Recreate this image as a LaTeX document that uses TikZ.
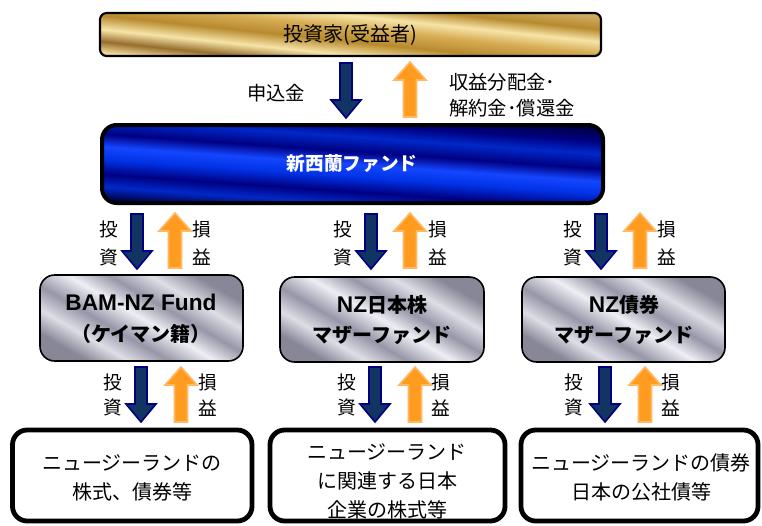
\documentclass[tikz,border=0pt]{standalone}
\usepackage{fontspec}
\setmainfont{Noto Sans CJK JP}
\newfontfamily\latinf{Liberation Sans}
\definecolor{navyfill}{RGB}{18,52,98}
\definecolor{navyedge}{RGB}{0,0,128}
\definecolor{orfill}{RGB}{255,155,30}
\definecolor{oredge}{RGB}{255,185,100}
\definecolor{gold1}{RGB}{238,214,150}
\definecolor{gold2}{RGB}{150,110,45}
\definecolor{gold3}{RGB}{246,228,168}
\definecolor{gold4}{RGB}{184,138,46}
\definecolor{gold5}{RGB}{214,172,84}
\definecolor{gold6}{RGB}{206,170,96}
\definecolor{bl1}{RGB}{0,0,70}
\definecolor{bl2}{RGB}{0,40,200}
\definecolor{bl3}{RGB}{0,0,130}
\definecolor{bl4}{RGB}{0,50,230}
\definecolor{bl5}{RGB}{20,70,255}
\definecolor{gr1}{RGB}{135,135,152}
\definecolor{gr2}{RGB}{222,222,230}
\definecolor{gr3}{RGB}{150,150,168}
\definecolor{gr4}{RGB}{238,238,244}
\pgfdeclareverticalshading{goldsh}{100bp}{color(0bp)=(gold1); color(25bp)=(gold1); color(31bp)=(gold2); color(38bp)=(gold3); color(46bp)=(gold4); color(54bp)=(gold5); color(61bp)=(gold3); color(68bp)=(gold4); color(75bp)=(gold6); color(100bp)=(gold6)}
\pgfdeclareverticalshading{bluesh}{100bp}{color(0bp)=(bl1); color(25bp)=(bl1); color(31bp)=(bl2); color(37bp)=(bl3); color(44bp)=(bl4); color(50bp)=(bl5); color(56bp)=(bl3); color(63bp)=(bl2); color(69bp)=(bl3); color(75bp)=(bl1); color(100bp)=(bl1)}
\pgfdeclareverticalshading{graysh}{100bp}{color(0bp)=(gr1); color(25bp)=(gr1); color(33bp)=(gr2); color(41bp)=(gr3); color(50bp)=(gr4); color(58bp)=(gr3); color(66bp)=(gr2); color(75bp)=(gr1); color(100bp)=(gr1)}
\tikzset{
  goldbox/.style={draw=black, line width=1.6pt, rounded corners=5pt, shading=goldsh, shading angle=-6},
  bluebox/.style={draw=black, line width=3pt, rounded corners=11pt, shading=bluesh, shading angle=-4},
  graybox/.style={draw=black, line width=1.2pt, rounded corners=11pt, shading=graysh, shading angle=-30},
  whitebox/.style={draw=black, line width=3.6pt, rounded corners=11pt, fill=white},
  dnarr/.style={fill=navyfill, draw=navyedge, line width=1.2pt, line join=miter},
  uparr/.style={fill=orfill, draw=oredge, line width=1.2pt, line join=miter},
  lbl/.style={font=\fontsize{14}{21}\selectfont, align=center, inner sep=0pt},
  lbl3/.style={font=\fontsize{14}{19}\selectfont, align=center, inner sep=0pt},
  midtxt/.style={font=\fontsize{15}{23}\selectfont\bfseries, align=center, inner sep=0pt},
  bottxt/.style={font=\fontsize{15}{21.75}\selectfont, align=center, inner sep=0pt},
  pics/downarrow/.style={code={\draw[dnarr] (-6,0) -- (6,0) -- (6,37) -- (15,37) -- (0,55) -- (-15,37) -- (-6,37) -- cycle;}},
  pics/uparrow/.style={code={\draw[uparr] (-6.5,55) -- (6.5,55) -- (6.5,18) -- (16,18) -- (0,0) -- (-16,18) -- (-6.5,18) -- cycle;}}
}
\begin{document}
\begin{tikzpicture}[x=0.75pt,y=-0.75pt]
\useasboundingbox (0,0) rectangle (762,525);
% top box
\path[goldbox] (100,13) rectangle (601,56);
\node[font=\fontsize{15}{18}\selectfont, inner sep=0pt] (inv) at (350.5,35) {投資家(受益者)};
% arrows level 1
\pic at (346,63) {downarrow};
\pic at (410,62) {uparrow};
\node[font=\fontsize{14.5}{19.5}\selectfont, inner sep=0pt] (app) at (276,93) {申込金};
\node[font=\fontsize{14.5}{19.5}\selectfont, inner sep=0pt, align=left, anchor=west] (dist) at (449,95) {収益分配金･\\解約金･償還金};
% fund box
\path[bluebox] (102,125) rectangle (603,203);
\node[font=\fontsize{14}{18}\selectfont\bfseries, text=white, inner sep=0pt] (fund) at (352,164) {新西蘭ファンド};
% arrows level 2
\foreach \d/\u/\a/\b [count=\i] in {137/175/109/202, 371/410/343/438, 601/640/573/667}{
  \pic at (\d,214) {downarrow};
  \pic at (\u,213) {uparrow};
  \node[lbl] (inA\i) at (\a,243) {投\\資};
  \node[lbl] (plA\i) at (\b,243) {損\\益};
}
% middle boxes
\path[graybox] (40,275) rectangle (243,361);
\path[graybox] (280,277) rectangle (484,362);
\path[graybox] (522,277) rectangle (725,362);
\node[midtxt] (m1) at (141,319) {{\latinf\fontsize{17}{23}\selectfont\bfseries BAM-NZ Fund}\\（ケイマン籍）};
\node[midtxt] (m2) at (382,320) {{\latinf\fontsize{17}{23}\selectfont\bfseries NZ}日本株\\マザーファンド};
\node[midtxt] (m3) at (624,320) {{\latinf\fontsize{17}{23}\selectfont\bfseries NZ}債券\\マザーファンド};
% arrows level 3
\foreach \d/\u/\a/\b [count=\i] in {141/181/113/208, 375/415/347/441, 605/645/574/671}{
  \pic at (\d,367) {downarrow};
  \pic at (\u,367) {uparrow};
  \node[lbl3] (inB\i) at (\a,395) {投\\資};
  \node[lbl3] (plB\i) at (\b,395) {損\\益};
}
% bottom boxes
\path[whitebox] (12.5,430) rectangle (252,521);
\path[whitebox] (270,430) rectangle (505,521);
\path[whitebox] (521,430) rectangle (758,521);
\node[bottxt] (b1) at (132,478) {ニュージーランドの\\株式、債券等};
\node[bottxt] (b2) at (387,481) {ニュージーランド\\に関連する日本\\企業の株式等};
\node[bottxt] (b3) at (641,477) {ニュージーランドの債券\\日本の公社債等};
\end{tikzpicture}
\end{document}
